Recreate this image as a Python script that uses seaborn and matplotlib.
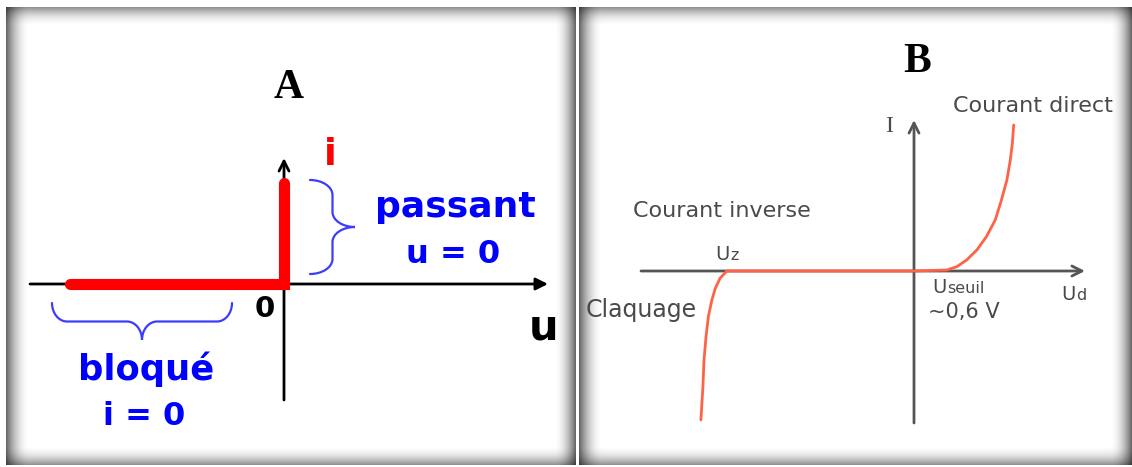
import numpy as np
import matplotlib
matplotlib.use("Agg")
import matplotlib.pyplot as plt
from matplotlib.path import Path
from matplotlib.patches import PathPatch
import seaborn as sns

# panel A : ideal diode characteristic (u, i)
u_ideal = [-1.0, 0.0, 0.0]
i_ideal = [0.0, 0.0, 1.0]

ud_reel = [-3.12, -3.09, -3.075, -3.045, -3.01, -2.96, -2.91, -2.84, -2.74,
           0.0, 0.48, 0.625, 0.77, 0.92, 1.06, 1.19, 1.28, 1.36, 1.41, 1.44, 1.46]
i_reel = [-102, -79, -61, -45, -31, -20, -12, -5, 0,
          0, 0.7, 2.9, 7.5, 14.4, 23.5, 35, 48.6, 62.3, 76, 87.5, 100]

sns.set_theme(style="white")
plt.rcParams['font.family'] = ['DejaVu Sans']

W, H = 1132, 467
fig = plt.figure(figsize=(W / 100, H / 100), dpi=100, facecolor='white')

# decoration layer in pixel coordinates (frames, axes arrows, braces, texts)
deco = fig.add_axes([0, 0, 1, 1])
deco.set_zorder(0)


def shadow_frame(box):
    x0, y0, x1, y1 = box
    w, h = x1 - x0, y1 - y0
    xs = np.arange(w) + 0.5
    ys = np.arange(h) + 0.5

    def ramp(d, width, depth):
        return depth * np.clip(1 - d / width, 0, 1) ** 2

    dark_x = np.maximum(ramp(xs, 24, 0.62), ramp(w - xs, 22, 0.62))
    dark_y = np.maximum(ramp(ys, 20, 0.45), ramp(h - ys, 20, 0.45))
    dark = 1 - (1 - dark_x[None, :]) * (1 - dark_y[:, None])
    deco.imshow(1 - dark, cmap='gray', vmin=0, vmax=1, extent=(x0, x1, y1, y0),
                aspect='auto', interpolation='bilinear', zorder=0)


def arrow(start, end, color, style):
    deco.annotate('', xy=end, xytext=start,
                  arrowprops=dict(arrowstyle=style, color=color, lw=2,
                                  shrinkA=0, shrinkB=0, mutation_scale=18))


def brace(start, end, normal, depth, r=15, color='#3c3cff', lw=1.6):
    p0 = np.array(start, float)
    p1 = np.array(end, float)
    L = np.linalg.norm(p1 - p0)
    s = (p1 - p0) / L
    n = np.array(normal, float)
    k = 0.552
    h = depth
    m = L / 2
    local = [(0, 0), (0, k * h / 2), (r - k * r, h / 2), (r, h / 2),
             (m - r, h / 2),
             (m - r + k * r, h / 2), (m, h - k * h / 2), (m, h),
             (m, h - k * h / 2), (m + r - k * r, h / 2), (m + r, h / 2),
             (L - r, h / 2),
             (L - r + k * r, h / 2), (L, k * h / 2), (L, 0)]
    pts = [p0 + a * s + b * n for a, b in local]
    codes = ([Path.MOVETO] + [Path.CURVE4] * 3 + [Path.LINETO] + [Path.CURVE4] * 6
             + [Path.LINETO] + [Path.CURVE4] * 3)
    deco.add_patch(PathPatch(Path(pts, codes), fill=False, edgecolor=color, lw=lw,
                             capstyle='round', zorder=2))


box_a = (6, 7, 576, 465)
box_b = (579, 7, 1132, 465)
shadow_frame(box_a)
shadow_frame(box_b)


def panel_axes(box, origin, scale):
    x0, y0, x1, y1 = box
    ax = fig.add_axes([x0 / W, 1 - y1 / H, (x1 - x0) / W, (y1 - y0) / H])
    ax.set_xlim((x0 - origin[0]) / scale[0], (x1 - origin[0]) / scale[0])
    ax.set_ylim((origin[1] - y1) / scale[1], (origin[1] - y0) / scale[1])
    ax.axis('off')
    ax.set_zorder(1)
    return ax


# ---------------- panel A ----------------
axA = panel_axes(box_a, origin=(284, 284), scale=(214, 101))
arrow((30, 284), (548, 284), 'black', '-|>')
arrow((284, 400), (284, 158), 'black', '->')
sns.lineplot(x=u_ideal, y=i_ideal, sort=False, estimator=None, ax=axA,
             color='#ff0000', lw=8, solid_capstyle='round', solid_joinstyle='miter')

serif = ['Liberation Serif', 'DejaVu Serif']
deco.text(289, 98, 'A', family=serif, color='black', weight='bold', size=30,
          ha='center', va='baseline')
deco.text(330, 165, 'i', color='#ff0000', weight='bold', size=27, ha='center', va='baseline')
deco.text(265, 317, '0', color='black', weight='bold', size=21, ha='center', va='baseline')
deco.text(544, 340, 'u', color='black', weight='bold', size=30, ha='center', va='baseline')

brace((310, 180), (310, 274), normal=(1, 0), depth=45)
deco.text(455, 217, 'passant', color='#0000ff', weight='bold', size=26, ha='center', va='baseline')
deco.text(453, 263, 'u = 0', color='#0000ff', weight='bold', size=23, ha='center', va='baseline')

brace((52, 303), (232, 303), normal=(0, 1), depth=37)
deco.text(146, 380, 'bloqué', color='#0000ff', weight='bold', size=25.5, ha='center', va='baseline')
deco.text(144, 425, 'i = 0', color='#0000ff', weight='bold', size=23, ha='center', va='baseline')

# ---------------- panel B ----------------
grey = '#555555'
txt = '#4a4a4a'
axB = panel_axes(box_b, origin=(914, 271), scale=(68.3, 1.46))
arrow((641, 271), (1085, 271), grey, '->')
arrow((914, 423), (914, 120), grey, '->')
sns.lineplot(x=ud_reel, y=i_reel, sort=False, estimator=None, ax=axB,
             color='#ff6347', lw=2)

deco.text(917, 72, 'B', family=serif, color='black', weight='bold', size=30,
          ha='center', va='baseline')
deco.text(889, 132, 'I', family=serif, color=txt, size=17, ha='center', va='baseline')
deco.text(953, 112, 'Courant direct', color=txt, size=16, ha='left', va='baseline')
deco.text(633, 217, 'Courant inverse', color=txt, size=16, ha='left', va='baseline')
deco.text(586, 317, 'Claquage', color=txt, size=17, ha='left', va='baseline')
deco.text(928, 318, '~0,6 V', color=txt, size=15, ha='left', va='baseline')


def sub_label(x, y, main, small):
    t = deco.text(x, y, main, color=txt, size=14, ha='left', va='baseline')
    deco.annotate(small, xy=(1, 0), xycoords=t, xytext=(0.5, 1), textcoords='offset points',
                  color=txt, size=11.5, ha='left', va='bottom')


sub_label(715, 260, 'U', 'z')
sub_label(932, 293, 'U', 'seuil')
sub_label(1061, 300, 'U', 'd')

deco.set_xlim(0, W)
deco.set_ylim(H, 0)
deco.axis('off')

fig.savefig('out.png', dpi=100, facecolor='white')
